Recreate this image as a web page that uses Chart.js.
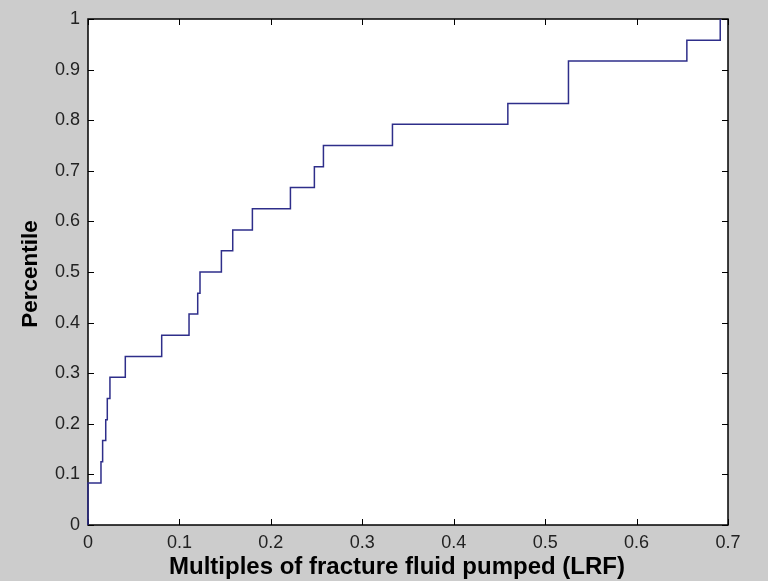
<!DOCTYPE html>
<html>
<head>
<meta charset="utf-8">
<script src="https://cdn.jsdelivr.net/npm/chart.js@4.4.0/dist/chart.umd.min.js"></script>
<style>
html,body{margin:0;padding:0;background:#cccccc;}
#wrap{width:768px;height:581px;position:relative;}
</style>
</head>
<body>
<div id="wrap"><canvas id="c" width="768" height="581"></canvas></div>
<script>
// Empirical CDF: sample values (LRF) and cumulative percentile reached at each value
const lrfValues   = [0, 0, 0.0142, 0.016, 0.0194, 0.0211, 0.024, 0.0408, 0.0806, 0.1105, 0.12, 0.1225, 0.1459, 0.1583, 0.1798, 0.2214, 0.2476, 0.2575, 0.333, 0.4592, 0.5255, 0.655, 0.6915];
const percentiles = [0, 0.083, 0.125, 0.167, 0.208, 0.25, 0.292, 0.333, 0.375, 0.417, 0.458, 0.5, 0.542, 0.583, 0.625, 0.667, 0.708, 0.75, 0.792, 0.833, 0.917, 0.958, 1.0];
const xTickValues = [0, 0.1, 0.2, 0.3, 0.4, 0.5, 0.6, 0.7];
const yTickValues = [0, 0.1, 0.2, 0.3, 0.4, 0.5, 0.6, 0.7, 0.8, 0.9, 1];
const xTitle = 'Multiples of fracture fluid pumped (LRF)';
const yTitle = 'Percentile';

const points = lrfValues.map((v, i) => ({x: v, y: percentiles[i]}));
const fmt = v => String(Number(Number(v).toFixed(2)));

const boxPlugin = {
  id: 'matlabBox',
  beforeDraw(chart) {
    const {ctx, chartArea: a} = chart;
    ctx.save();
    ctx.fillStyle = '#cccccc';
    ctx.fillRect(0, 0, chart.width, chart.height);
    ctx.fillStyle = '#ffffff';
    ctx.fillRect(a.left, a.top, a.right - a.left, a.bottom - a.top);
    ctx.restore();
  },
  beforeDatasetsDraw(chart) {
    const {ctx, chartArea: a, scales: {x, y}} = chart;
    ctx.save();
    ctx.strokeStyle = '#000000';
    ctx.lineWidth = 1;
    const tl = 6;
    ctx.beginPath();
    xTickValues.forEach(v => {
      const px = Math.round(x.getPixelForValue(v)) + 0.5;
      ctx.moveTo(px, a.bottom); ctx.lineTo(px, a.bottom - tl);
      ctx.moveTo(px, a.top); ctx.lineTo(px, a.top + tl);
    });
    yTickValues.forEach(v => {
      const py = Math.round(y.getPixelForValue(v)) + 0.5;
      ctx.moveTo(a.left, py); ctx.lineTo(a.left + tl, py);
      ctx.moveTo(a.right, py); ctx.lineTo(a.right - tl, py);
    });
    ctx.stroke();
    ctx.lineWidth = 1.5;
    ctx.strokeRect(a.left, a.top, a.right - a.left, a.bottom - a.top);
    ctx.restore();
  },
  afterDraw(chart) {
    const {ctx, chartArea: a} = chart;
    ctx.save();
    ctx.fillStyle = '#000000';
    ctx.font = 'bold 24px "Liberation Sans", Arial, sans-serif';
    ctx.textAlign = 'center';
    ctx.textBaseline = 'alphabetic';
    ctx.fillText(xTitle, 397, 574);
    ctx.font = 'bold 22.5px "Liberation Sans", Arial, sans-serif';
    ctx.translate(37, (a.top + a.bottom) / 2 + 2);
    ctx.rotate(-Math.PI / 2);
    ctx.fillText(yTitle, 0, 0);
    ctx.restore();
  }
};

const tickFont = {family: '"Liberation Sans", Arial, sans-serif', size: 18};

new Chart(document.getElementById('c'), {
  type: 'line',
  data: {
    datasets: [{
      data: points,
      stepped: 'before',
      borderColor: '#2e2e8a',
      borderWidth: 1.5,
      pointRadius: 0,
      fill: false,
      clip: false,
      tension: 0
    }]
  },
  options: {
    responsive: false,
    devicePixelRatio: 1,
    animation: false,
    layout: {padding: {top: 19, right: 40, left: 0, bottom: 0}},
    plugins: {legend: {display: false}, tooltip: {enabled: false}, title: {display: false}},
    scales: {
      x: {
        type: 'linear', min: 0, max: 0.7,
        afterBuildTicks: s => { s.ticks = xTickValues.map(v => ({value: v})); },
        afterFit: s => { s.height = 56; },
        grid: {display: false, drawTicks: false},
        border: {display: false},
        ticks: {font: tickFont, color: '#222222', padding: 7, maxRotation: 0, autoSkip: false, callback: fmt}
      },
      y: {
        type: 'linear', min: 0, max: 1,
        afterBuildTicks: s => { s.ticks = yTickValues.map(v => ({value: v})); },
        afterFit: s => { s.width = 88; },
        grid: {display: false, drawTicks: false},
        border: {display: false},
        ticks: {font: tickFont, color: '#222222', padding: 8, autoSkip: false, callback: fmt}
      }
    }
  },
  plugins: [boxPlugin]
});
</script>
</body>
</html>
